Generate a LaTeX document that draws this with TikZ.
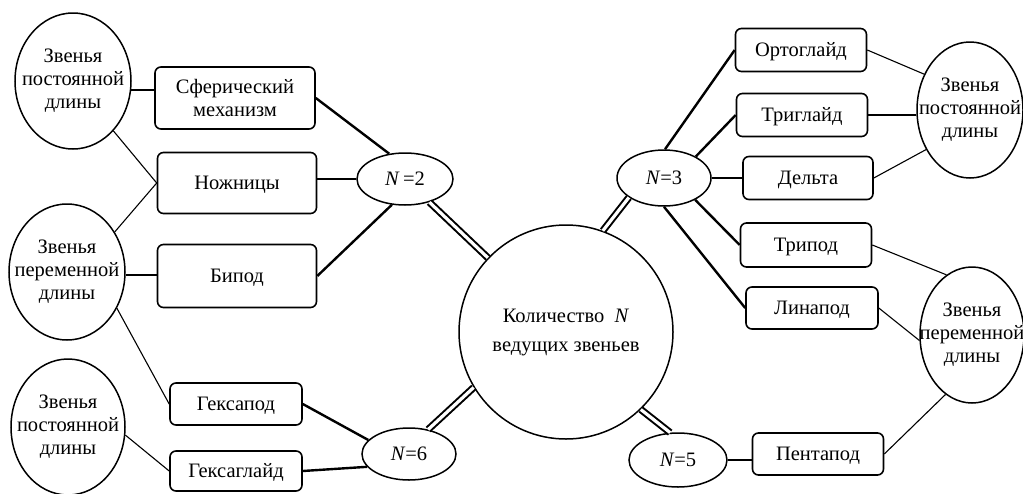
\documentclass[tikz,border=0pt]{standalone}
\usepackage{fontspec}
\setmainfont{Liberation Serif}
\usetikzlibrary{shapes.geometric}
\begin{document}
\begin{tikzpicture}[x=1pt,y=-1pt,
  every node/.style={font=\fontsize{20.5}{23}\selectfont, inner sep=0pt, align=center},
  ell/.style={draw, ellipse, line width=1.5pt},
  bigell/.style={ell, inner xsep=-25pt, inner ysep=-10pt, minimum height=136pt},
  sbox/.style={draw, rounded corners=6pt, line width=1.6pt},
  one/.style={text height=14pt, text depth=1pt},
  thk/.style={line width=2.4pt},
  thn/.style={line width=1.1pt},
  dbl/.style={double, double distance=3.2pt, line width=2pt}]
\useasboundingbox (0,0) rectangle (1023,493);
% ellipses with link types
\node[bigell, minimum width=116pt] (L1) at (73,81) {Звенья\\постоянной\\длины};
\node[bigell, minimum width=116pt] (L2) at (67,272) {Звенья\\переменной\\длины};
\node[bigell, minimum width=114pt] (L3) at (68,427) {Звенья\\постоянной\\длины};
\node[bigell, minimum width=106pt] (R1) at (970,110) {Звенья\\постоянной\\длины};
\node[bigell, minimum width=104pt] (R2) at (972,335) {Звенья\\переменной\\длины};
% boxes
\node[sbox, minimum width=160pt, minimum height=62pt] (sfer) at (235,98) {Сферический\\механизм};
\node[sbox, one, minimum width=159pt, minimum height=61pt] (nozh) at (237,183) {Ножницы};
\node[sbox, one, minimum width=159pt, minimum height=63pt] (bipod) at (237,276) {Бипод};
\node[sbox, one, minimum width=132pt, minimum height=42pt] (hexa) at (236,404) {Гексапод};
\node[sbox, one, minimum width=132pt, minimum height=40pt] (hexg) at (236,471) {Гексаглайд};
\node[sbox, one, minimum width=131pt, minimum height=43pt] (orto) at (801,50) {Ортоглайд};
\node[sbox, one, minimum width=131pt, minimum height=43pt] (trigl) at (802,115) {Триглайд};
\node[sbox, one, minimum width=130pt, minimum height=43pt] (delta) at (808,178) {Дельта};
\node[sbox, one, minimum width=131pt, minimum height=44pt] (tripod) at (806,245) {Трипод};
\node[sbox, one, minimum width=132pt, minimum height=42pt] (lina) at (812,308) {Линапод};
\node[sbox, one, minimum width=131pt, minimum height=42pt] (penta) at (818,454) {Пентапод};
% N ellipses
\node[ell, one, minimum width=96pt, minimum height=52pt] (N2) at (405,179) {\textit{N}\,=2};
\node[ell, one, minimum width=94pt, minimum height=56pt] (N3) at (664,178) {\textit{N}=3};
\node[ell, one, minimum width=94pt, minimum height=52pt] (N6) at (409,454) {\textit{N}=6};
\node[ell, one, minimum width=98pt, minimum height=54pt] (N5) at (678,460) {\textit{N}=5};
% central circle
\node[draw, circle, line width=1.5pt, inner sep=-20pt, minimum size=214pt] (C) at (566,332) {Количество\enspace\textit{N}\\[6pt]ведущих звеньев};
% thick connectors
\draw[thk] (L1.-9) -- (L1.-9 -| sfer.west);
\draw[thk] (sfer.east) -- (N2.122);
\draw[thk] (N2.west) -- (N2.west -| nozh.east);
\draw[thk] (N2.-117) -- (bipod.east);
\draw[thk] (L2.-3) -- (L2.-3 -| bipod.west);
\draw[thk] (hexa.east) -- (N6.161);
\draw[thk] (hexg.east) -- (N6.197);
\draw[thk] (N3.88) -- (orto.west);
\draw[thk] (N3.34) -- (trigl.west);
\draw[thk] (N3.east) -- (N3.east -| delta.west);
\draw[thk] (N3.-35) -- (tripod.west);
\draw[thk] (N3.south) -- (lina.west);
\draw[thk] (N5.east) -- (N5.east -| penta.west);
% thin connectors
\draw[thn] (L1.-51) -- (nozh.west);
\draw[thn] (nozh.west) -- (L2.40);
\draw[thn] (L2.-36) -- (hexa.west);
\draw[thn] (L3.-8) -- (hexg.west);
\draw[thn] (orto.east) -- (R1.142);
\draw[thn] (trigl.east) -- (trigl.east -| R1.west);
\draw[thn] (delta.east) -- (R1.222);
\draw[thn] (tripod.east) -- (R2.113);
\draw[thn] (lina.east) -- (R2.186);
\draw[thn] (penta.east) -- (R2.246);
% double connectors
\draw[dbl] (N2) -- (C);
\draw[dbl] (N6.52) -- (C.211);
\draw[dbl] (N3.209) -- (C.70);
\draw[dbl] (C.-46) -- (N5.106);
\end{tikzpicture}
\end{document}
